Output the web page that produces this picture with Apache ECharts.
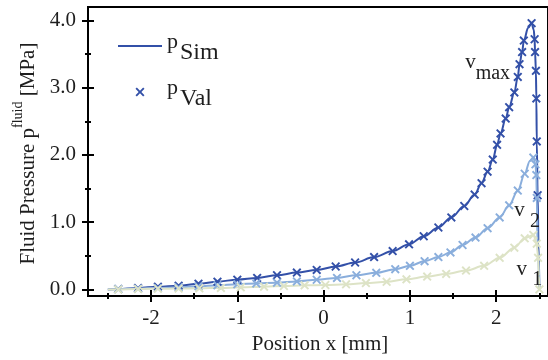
<!DOCTYPE html>
<html><head><meta charset="utf-8">
<script src="https://cdn.jsdelivr.net/npm/echarts@6/dist/echarts.min.js"></script>
<style>html,body{margin:0;padding:0;background:#fff}#c{width:548px;height:360px}</style>
</head><body><div id="c"></div>
<script>
// ---- axis ticks ----
const xMajorTicks = [-2, -1, 0, 1, 2];
const xMinorTicks = [-2.5, -1.5, -0.5, 0.5, 1.5, 2.5];
const yMajorTicks = [0, 1, 2, 3, 4];
const yMinorTicks = [0.5, 1.5, 2.5, 3.5];

// ---- simulated curves [x mm, p MPa] ----
const simVmax = [[-2.5,0.0],[-2.38,0.005],[-2.15,0.02],[-1.92,0.04],[-1.68,0.055],[-1.45,0.085],[-1.23,0.115],[-1.0,0.145],[-0.77,0.17],[-0.54,0.21],[-0.31,0.25],[-0.08,0.29],[0.14,0.34],[0.365,0.40],[0.585,0.48],[0.80,0.57],[0.99,0.67],[1.16,0.79],[1.33,0.92],[1.48,1.07],[1.63,1.24],[1.75,1.41],[1.83,1.58],[1.90,1.75],[1.96,1.93],[2.01,2.15],[2.05,2.32],[2.11,2.54],[2.15,2.71],[2.21,2.93],[2.25,3.16],[2.27,3.35],[2.30,3.53],[2.32,3.70],[2.37,3.89],[2.41,3.96],[2.435,3.86],[2.445,3.72],[2.45,3.53],[2.46,3.25],[2.465,2.84],[2.47,2.2],[2.48,1.4],[2.49,0.7],[2.5,0.0]];
const simV2 = [[-2.5,0.0],[-2.38,0.005],[-2.15,0.01],[-1.92,0.02],[-1.68,0.03],[-1.45,0.045],[-1.23,0.06],[-1.0,0.075],[-0.78,0.089],[-0.54,0.10],[-0.31,0.118],[-0.08,0.143],[0.155,0.17],[0.38,0.21],[0.61,0.246],[0.83,0.30],[1.0,0.35],[1.17,0.42],[1.33,0.48],[1.47,0.55],[1.61,0.66],[1.76,0.77],[1.90,0.91],[2.04,1.07],[2.15,1.25],[2.25,1.47],[2.33,1.72],[2.39,1.91],[2.43,1.96],[2.455,1.86],[2.465,1.70],[2.47,1.36],[2.48,0.62],[2.5,0.0]];
const simV1 = [[-2.5,0.0],[-2.38,0.0],[-2.15,0.005],[-1.92,0.01],[-1.68,0.012],[-1.44,0.016],[-1.19,0.022],[-0.96,0.03],[-0.69,0.04],[-0.46,0.05],[-0.22,0.06],[0.02,0.065],[0.26,0.075],[0.49,0.093],[0.73,0.113],[0.96,0.15],[1.2,0.19],[1.42,0.23],[1.65,0.28],[1.86,0.35],[2.04,0.47],[2.21,0.62],[2.33,0.76],[2.43,0.81],[2.47,0.68],[2.485,0.47],[2.495,0.2],[2.5,0.0]];

// ---- validation markers [x mm, p MPa] ----
const valVmax = [[-2.38,0.005],[-2.15,0.02],[-1.92,0.04],[-1.68,0.055],[-1.45,0.085],[-1.23,0.115],[-1.0,0.145],[-0.77,0.17],[-0.54,0.21],[-0.31,0.25],[-0.08,0.29],[0.14,0.34],[0.365,0.40],[0.585,0.48],[0.80,0.57],[0.99,0.67],[1.16,0.79],[1.33,0.92],[1.48,1.07],[1.63,1.24],[1.75,1.41],[1.83,1.58],[1.90,1.75],[1.96,1.93],[2.01,2.15],[2.05,2.32],[2.11,2.54],[2.15,2.71],[2.21,2.93],[2.25,3.16],[2.27,3.35],[2.30,3.53],[2.32,3.70],[2.41,3.96],[2.445,3.72],[2.45,3.53],[2.46,3.25],[2.465,2.84],[2.47,2.2],[2.48,1.4]];
const valV2 = [[-2.38,0.005],[-2.15,0.01],[-1.92,0.02],[-1.68,0.03],[-1.45,0.045],[-1.23,0.06],[-1.0,0.075],[-0.78,0.089],[-0.54,0.10],[-0.31,0.118],[-0.08,0.143],[0.155,0.17],[0.38,0.21],[0.61,0.246],[0.83,0.30],[1.0,0.35],[1.17,0.42],[1.33,0.48],[1.47,0.55],[1.61,0.66],[1.76,0.77],[1.90,0.91],[2.04,1.07],[2.15,1.25],[2.25,1.47],[2.33,1.72],[2.43,1.96],[2.455,1.86],[2.465,1.70],[2.47,1.36]];
const valV1 = [[-2.38,0.0],[-2.15,0.005],[-1.92,0.01],[-1.68,0.012],[-1.44,0.016],[-1.19,0.022],[-0.96,0.03],[-0.69,0.04],[-0.46,0.05],[-0.22,0.06],[0.02,0.065],[0.26,0.075],[0.49,0.093],[0.73,0.113],[0.96,0.15],[1.2,0.19],[1.42,0.23],[1.65,0.28],[1.86,0.35],[2.04,0.47],[2.21,0.62],[2.33,0.76],[2.43,0.81],[2.47,0.68],[2.485,0.47],[2.5,0.0]];

// ---- annotations: [text rich, x, p] ----
const annotations = [
  ['{v|v}{s|max}', 1.64, 3.44],
  ['{v|v }{s|2}', 2.21, 1.24],
  ['{v|v }{s|1}', 2.235, 0.37]
];

const X_MIN = -2.73, X_MAX = 2.6, Y_MIN = -0.1, Y_MAX = 4.2;
const C_VMAX = '#3350a8', C_V2 = '#8aaedc', C_V1 = '#dde3c6';
const FONT = 'Liberation Serif';
const TXT = '#1e1e1e';
const XPATH = 'path://M0,1.5L1.5,0L5,3.5L8.5,0L10,1.5L6.5,5L10,8.5L8.5,10L5,6.5L1.5,10L0,8.5L3.5,5Z';

function xAx(ticks, inside, len, main) {
  return {
    type: 'value', position: 'bottom', min: X_MIN, max: X_MAX,
    axisLine: { show: main, onZero: false, lineStyle: { color: '#000', width: 2 } },
    axisTick: { show: true, inside: inside, length: len, customValues: ticks, lineStyle: { color: '#000', width: 2 } },
    axisLabel: { show: main, customValues: xMajorTicks, margin: 12, fontSize: 21, fontFamily: FONT, color: TXT },
    splitLine: { show: false },
    name: main ? 'Position x [mm]' : '', nameLocation: 'middle', nameGap: 36,
    nameTextStyle: { fontSize: 21, fontFamily: FONT, color: TXT, padding: [0, 0, 0, 4] }
  };
}
function yAx(ticks, inside, len, main) {
  return {
    type: 'value', position: 'left', min: Y_MIN, max: Y_MAX,
    axisLine: { show: main, onZero: false, lineStyle: { color: '#000', width: 2 } },
    axisTick: { show: true, inside: inside, length: len, customValues: ticks, lineStyle: { color: '#000', width: 2 } },
    axisLabel: { show: main, customValues: yMajorTicks, margin: 12, fontSize: 21, fontFamily: FONT, color: TXT,
      formatter: v => v.toFixed(1) },
    splitLine: { show: false },
    name: main ? '{a|Fluid Pressure p}{b|fluid}{a| [MPa]}' : '', nameLocation: 'middle', nameGap: 49, nameRotate: 90,
    nameTextStyle: { fontFamily: FONT, color: TXT, padding: [0, 4, 0, 0],
      rich: {
        a: { fontSize: 21, lineHeight: 21, padding: [7, 0, 0, 0], fontFamily: FONT, color: TXT },
        b: { fontSize: 14, lineHeight: 14, padding: [0, 0, 14, 0], fontFamily: FONT, color: TXT }
      } }
  };
}
function lineS(data, color) {
  return { type: 'line', name: 'sim', data: data, showSymbol: false, symbol: 'none', smooth: 0.35, smoothMonotone: 'x',
    lineStyle: { color: color, width: 2 }, itemStyle: { color: color }, xAxisIndex: 0, yAxisIndex: 0, z: 3, animation: false };
}
function valS(data, color) {
  return { type: 'scatter', name: 'val', data: data, symbol: XPATH, symbolSize: 9,
    itemStyle: { color: color, opacity: 1 }, xAxisIndex: 0, yAxisIndex: 0, z: 4, animation: false };
}

const chart = echarts.init(document.getElementById('c'), null, { renderer: 'canvas' });
chart.setOption({
  animation: false,
  backgroundColor: '#fff',
  grid: { left: 88, top: 7, width: 462, height: 292, show: true, borderColor: '#000', borderWidth: 2, backgroundColor: 'transparent' },
  xAxis: [xAx(xMajorTicks, false, 6, true), xAx(xMajorTicks, true, 6, false), xAx(xMinorTicks, false, 3, false), xAx(xMinorTicks, true, 3, false)],
  yAxis: [yAx(yMajorTicks, false, 6, true), yAx(yMajorTicks, true, 6, false), yAx(yMinorTicks, false, 3, false), yAx(yMinorTicks, true, 3, false)],
  legend: {
    orient: 'vertical', left: 113, top: 22.5, itemWidth: 44, itemHeight: 9, itemGap: 9,
    data: [{ name: 'sim', icon: 'path://M0,0L44,0L44,2L0,2Z' }, { name: 'val', icon: XPATH }],
    formatter: n => n === 'sim' ? '{p|p}{s|Sim}' : '{p|p}{s|Val}',
    textStyle: { fontFamily: FONT, color: TXT,
      rich: {
        p: { fontSize: 22, lineHeight: 22, padding: [4, 2, 11, 0], fontFamily: FONT, color: TXT },
        s: { fontSize: 24, lineHeight: 24, padding: [13, 0, 0, 0], fontFamily: FONT, color: TXT }
      } }
  },
  series: [lineS(simVmax, C_VMAX), valS(valVmax, C_VMAX), lineS(simV2, C_V2), valS(valV2, C_V2), lineS(simV1, C_V1), valS(valV1, C_V1)]
});

const annRich = {
  v: { fontSize: 21, lineHeight: 20, padding: [0, 0, 11, 0], fontFamily: FONT, fill: TXT, color: TXT },
  s: { fontSize: 20, lineHeight: 20, padding: [11, 0, 0, 0], fontFamily: FONT, fill: TXT, color: TXT }
};
chart.setOption({
  graphic: annotations.map(a => {
    const pt = chart.convertToPixel({ xAxisIndex: 0, yAxisIndex: 0 }, [a[1], a[2]]);
    return { type: 'text', x: pt[0], y: pt[1], z: 10,
      style: { text: a[0], rich: annRich, fill: TXT, font: '20px ' + FONT, verticalAlign: 'top', align: 'left' } };
  })
});
</script></body></html>
